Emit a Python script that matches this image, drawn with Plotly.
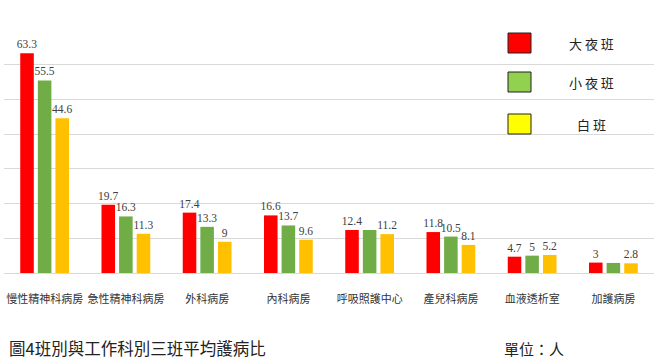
import plotly.graph_objects as go

categories = ["慢性精神科病房", "急性精神科病房", "外科病房", "內科病房",
              "呼吸照護中心", "產兒科病房", "血液透析室", "加護病房"]
series_names = ["大夜班", "小夜班", "白班"]
night_big = [63.3, 19.7, 17.4, 16.6, 12.4, 11.8, 4.7, 3.0]
night_small = [55.5, 16.3, 13.3, 13.7, 12.4, 10.5, 5.0, 2.9]
day_shift = [44.6, 11.3, 9.0, 9.6, 11.2, 8.1, 5.2, 2.8]
label_big = ["63.3", "19.7", "17.4", "16.6", "12.4", "11.8", "4.7", "3"]
label_small = ["55.5", "16.3", "13.3", "13.7", "", "10.5", "5", ""]
label_day = ["44.6", "11.3", "9", "9.6", "11.2", "8.1", "5.2", "2.8"]

bar_colors = ["#ff0000", "#70ad47", "#ffc000"]
legend_colors = ["#ff0000", "#92d050", "#ffff00"]

W, H = 656, 361
L, R, T, B = 4, 2, 44, 88
pw, ph = W - L - R, H - T - B


def px(x):
    return (x - L) / pw


def py(y):
    return (H - B - y) / ph


label_font = dict(family="Liberation Serif, Times New Roman, serif", size=11.5, color="#404040")

fig = go.Figure()
for name, vals, labs, col in zip(series_names, [night_big, night_small, day_shift],
                                 [label_big, label_small, label_day], bar_colors):
    fig.add_trace(go.Bar(
        x=categories, y=vals, name=name, marker=dict(color=col, line=dict(width=0)),
        text=labs, textposition="outside", cliponaxis=False, constraintext="none",
        textfont=label_font, outsidetextfont=label_font,
        showlegend=False,
    ))

shapes = [dict(type="rect", xref="paper", yref="paper", x0=px(552), x1=px(638),
               y0=py(142), y1=py(18), fillcolor="white", line=dict(width=0), layer="below")]
annotations = []
legend_y = [43, 82, 124]
for name, col, yy in zip(series_names, legend_colors, legend_y):
    shapes.append(dict(type="rect", xref="paper", yref="paper", x0=px(508), x1=px(531),
                       y0=py(yy + 10), y1=py(yy - 10), fillcolor=col,
                       line=dict(color="#222222", width=1)))
    annotations.append(dict(xref="paper", yref="paper", x=px(591), y=py(yy),
                            xanchor="center", yanchor="middle",
                            text=" ".join(name), showarrow=False,
                            font=dict(family="Noto Sans CJK TC", size=13, color="#222222")))

annotations.append(dict(xref="paper", yref="paper", x=px(7), y=py(348),
                        xanchor="left", yanchor="middle",
                        text="圖4班別與工作科別三班平均護病比", showarrow=False,
                        font=dict(family="Noto Sans CJK TC", size=16.5, color="#222222")))
annotations.append(dict(xref="paper", yref="paper", x=px(502), y=py(348),
                        xanchor="left", yanchor="middle",
                        text="單位：人", showarrow=False,
                        font=dict(family="Noto Sans CJK TC", size=15, color="#222222")))

fig.update_layout(
    width=W, height=H, margin=dict(l=L, r=R, t=T, b=B),
    paper_bgcolor="white", plot_bgcolor="white",
    barmode="group", bargap=0.35, bargroupgap=0.23,
    shapes=shapes, annotations=annotations,
    xaxis=dict(showgrid=False, showline=False, ticks="", ticklabelstandoff=18, automargin=False,
               tickangle=0,
               tickfont=dict(family="Noto Sans CJK TC", size=11, color="#333333")),
    yaxis=dict(range=[0, 66], dtick=10, showgrid=True, gridcolor="#d9d9d9", gridwidth=1,
               zeroline=True, zerolinecolor="#d9d9d9", zerolinewidth=1, automargin=False,
               showticklabels=False, showline=False, ticks=""),
)
fig.write_html("out.html")
